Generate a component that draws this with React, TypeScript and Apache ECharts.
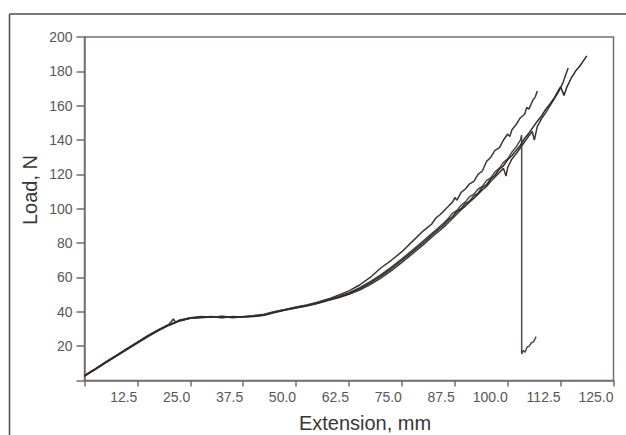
import React, { useEffect, useRef } from "react";
import * as echarts from "echarts";

const xTicks = [0, 12.5, 25, 37.5, 50, 62.5, 75, 87.5, 100, 112.5, 125];
const yTicks = [0, 20, 40, 60, 80, 100, 120, 140, 160, 180, 200];

// Specimen curves: [extension mm, load N]
const curveA: [number, number][] = [
  [0, 3], [1, 4.5], [2.5, 6.8], [5, 10.8], [7.5, 14.6], [10, 18.6], [12.5, 22.4], [15, 26.2],
  [17.5, 29.6], [20, 32.8], [21, 35.8], [21.5, 34], [22.5, 35.2], [25, 36.6], [27.5, 37.2],
  [30, 36.8], [32.5, 37.4], [35, 36.9], [37.5, 37.3], [40, 37.8], [42.5, 38.6], [45, 40.2],
  [47.5, 41.4], [50, 42.8], [52.5, 44], [55, 45.6], [57.5, 47.4], [60, 49.6], [62.5, 52.2],
  [65, 55.6], [67.5, 60], [70, 65.5], [72.5, 70], [75, 75], [77.5, 81], [80, 87], [81, 89],
  [82, 91], [83, 94.5], [84, 96.5], [85, 99], [86, 101.5], [87, 104], [87.5, 106.5], [88, 105],
  [89, 109.5], [90, 111.5], [91, 114.5], [92, 116], [93, 120], [94, 122], [95, 127.5], [96, 130],
  [97, 134], [98, 135.5], [99, 140], [100, 143.5], [100.5, 142], [101, 146], [102, 149],
  [103, 153], [104, 155], [104.5, 159], [105, 158], [106, 163.5], [106.5, 165], [107, 168.5],
];

const curveB: [number, number][] = [
  [0, 2.8], [1, 4.4], [2.5, 6.6], [5, 10.6], [7.5, 14.4], [10, 18.3], [12.5, 22.1], [15, 25.9],
  [17.5, 29.4], [20, 32.5], [22.5, 35], [25, 36.4], [27.5, 36.8], [30, 37.3], [32.5, 36.7],
  [35, 37.1], [37.5, 37], [40, 37.5], [42.5, 38.4], [45, 40], [47.5, 41.3], [50, 42.6],
  [52.5, 43.8], [55, 45.3], [57.5, 47], [60, 48.8], [62.5, 51], [65, 54], [67.5, 57.5],
  [70, 61.5], [72.5, 66], [75, 70.8], [77.5, 76], [80, 81.2], [82.5, 86.5], [85, 92],
  [86, 94.5], [87, 97.5], [88, 99], [89, 102], [90, 104], [91, 107], [92, 108.5], [93, 111.5],
  [94, 113], [95, 116.5], [96, 118], [97, 121.5], [98, 123.5], [99, 127], [100, 129],
  [101, 133], [102, 136], [103, 140], [103.3, 143], [103.3, 15.5], [103.7, 17.5], [104.1, 16.5],
  [104.6, 19.5], [105.1, 20], [105.6, 22], [106.1, 22.5], [106.7, 25.5],
];

const curveC: [number, number][] = [
  [0, 2.5], [1, 4.1], [2.5, 6.4], [5, 10.3], [7.5, 14.2], [10, 18], [12.5, 21.8], [15, 25.6],
  [17.5, 29.1], [20, 32.2], [22.5, 34.7], [25, 36.2], [27.5, 36.6], [30, 36.9], [32.5, 37.2],
  [35, 36.6], [37.5, 37.1], [40, 37.2], [42.5, 38], [45, 39.6], [47.5, 41], [50, 42.2],
  [52.5, 43.4], [55, 44.8], [57.5, 46.5], [60, 48.2], [62.5, 50.2], [65, 52.6], [67.5, 55.8],
  [70, 59.6], [72.5, 64], [75, 68.8], [77.5, 73.8], [80, 79], [82.5, 84.4], [85, 89.6],
  [86, 92], [87, 94.5], [88, 97], [89, 99.5], [90, 101.5], [91, 104], [92, 106], [93, 108.5],
  [94, 111], [95, 113], [96, 116], [97, 118.5], [98, 121], [99, 123.5], [99.6, 119], [100, 124],
  [101, 129], [102, 132], [103, 135.5], [104, 139], [105, 142.5], [105.8, 145], [106.3, 140],
  [107, 148], [108, 152.5], [109, 156], [110, 160], [111, 164], [112, 168], [113, 173],
  [113.7, 178], [114.3, 182],
];

const curveD: [number, number][] = [
  [0, 2.6], [1, 4.2], [2.5, 6.5], [5, 10.5], [7.5, 14.3], [10, 18.2], [12.5, 22], [15, 25.8],
  [17.5, 29.3], [20, 32.3], [22.5, 34.8], [25, 36.3], [27.5, 36.9], [30, 37.1], [32.5, 36.6],
  [35, 37.2], [37.5, 36.9], [40, 37.4], [42.5, 38.2], [45, 39.8], [47.5, 41.2], [50, 42.4],
  [52.5, 43.6], [55, 45], [57.5, 46.8], [60, 48.6], [62.5, 50.8], [65, 53.4], [67.5, 56.8],
  [70, 60.8], [72.5, 65.2], [75, 70], [77.5, 75], [80, 80.2], [82.5, 85.6], [85, 91],
  [86, 93.5], [87, 95.5], [88, 98.5], [89, 100], [90, 103], [91, 104.5], [92, 107.5],
  [93, 109], [94, 112.5], [95, 114], [96, 117.5], [97, 119.5], [98, 123], [99, 125],
  [100, 128.5], [101, 131], [102, 134], [103, 137], [104, 141], [105, 144], [106, 147.5],
  [107, 151], [108, 154], [109, 158], [110, 161], [111, 164.5], [112, 169], [112.5, 171],
  [113.3, 166], [114, 171], [115, 176], [116, 180], [117, 183], [118, 186.5], [118.7, 189],
];

const curves = [
  { name: "A", data: curveA, color: "#3d3635" },
  { name: "B", data: curveB, color: "#514a48" },
  { name: "C", data: curveC, color: "#3a3332" },
  { name: "D", data: curveD, color: "#2f2a29" },
];

const axisColor = "#776d6b";
const labelColor = "#5a5555";
const fontFamily = "'Liberation Sans', Arial, sans-serif";

export default function App() {
  const ref = useRef<HTMLDivElement>(null);
  useEffect(() => {
    if (!ref.current) return;
    const chart = echarts.init(ref.current, undefined, { renderer: "svg" });
    chart.setOption({
      animation: false,
      backgroundColor: "#ffffff",
      grid: {
        left: 84.5,
        top: 37,
        right: 12.5,
        bottom: 54.5,
        containLabel: false,
        outerBoundsMode: "none",
        show: true,
        borderColor: axisColor,
        borderWidth: 1.5,
        backgroundColor: "transparent",
      },
      xAxis: {
        type: "value",
        min: xTicks[0],
        max: xTicks[xTicks.length - 1],
        interval: 12.5,
        splitLine: { show: false },
        axisLine: { show: true, lineStyle: { color: axisColor, width: 1.5 } },
        axisTick: { show: true, length: 6, lineStyle: { color: axisColor, width: 1.5 } },
        axisLabel: {
          color: labelColor,
          fontSize: 14,
          fontFamily,
          margin: 9,
          align: "right",
          showMaxLabel: true,
          showMinLabel: true,
          formatter: (v: number) => (v === 0 ? "" : v.toFixed(1)),
        },
      },
      yAxis: {
        type: "value",
        min: yTicks[0],
        max: yTicks[yTicks.length - 1],
        interval: 20,
        splitLine: { show: false },
        axisLine: { show: true, lineStyle: { color: axisColor, width: 1.5 } },
        axisTick: { show: true, length: 8, lineStyle: { color: axisColor, width: 1.5 } },
        axisLabel: {
          color: labelColor,
          fontSize: 14,
          fontFamily,
          margin: 12,
          formatter: (v: number) => (v === 0 ? "" : String(v)),
        },
      },
      graphic: [
        { type: "line", shape: { x1: 9.5, y1: 14, x2: 626, y2: 14 }, style: { stroke: "#4d4d4d", lineWidth: 1.5 } },
        { type: "line", shape: { x1: 9.5, y1: 14, x2: 9.5, y2: 435 }, style: { stroke: "#4d4d4d", lineWidth: 1.5 } },
        {
          type: "text",
          x: 30,
          y: 190,
          rotation: Math.PI / 2,
          style: { text: "Load, N", fontSize: 20, fontFamily, fill: "#3a3535", align: "center", verticalAlign: "middle" },
        },
        {
          type: "text",
          x: 365,
          y: 423,
          style: { text: "Extension, mm", fontSize: 20, fontFamily, fill: "#3a3535", align: "center", verticalAlign: "middle" },
        },
      ],
      series: curves.map((c) => ({
        name: c.name,
        type: "line",
        data: c.data,
        showSymbol: false,
        symbol: "none",
        lineStyle: { color: c.color, width: 1.5 },
        z: 3,
      })),
    });
    return () => chart.dispose();
  }, []);
  return <div ref={ref} style={{ position: "absolute", left: 0, top: 0, width: 626, height: 435 }} />;
}
